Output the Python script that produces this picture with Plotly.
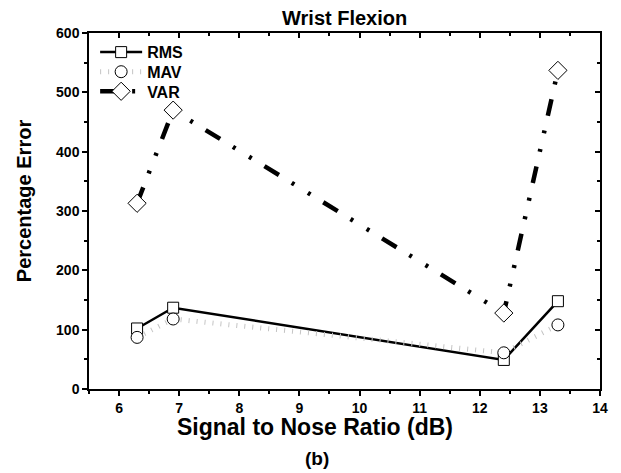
import plotly.graph_objects as go

# Signal-to-noise ratio (dB) at which each feature was evaluated
snr = [6.3, 6.9, 12.4, 13.3]

# Percentage error per feature
rms = [102, 137, 49, 148]
mav = [87, 118, 61, 108]
var = [313, 470, 128, 537]

x_ticks = [6, 7, 8, 9, 10, 11, 12, 13, 14]
y_ticks = [0, 100, 200, 300, 400, 500, 600]

FONT = "Liberation Sans, Arial, sans-serif"
X_RANGE = [5.5, 14]
Y_RANGE = [0, 600]


def bold(size):
    return dict(family=FONT, size=size, color="black", weight="bold")


def legend_box(y):
    # one legend per series so the rows can be packed tightly
    return dict(x=0.012, y=y, xanchor="left", yanchor="middle",
                bgcolor="rgba(0,0,0,0)", borderwidth=0,
                font=bold(16), itemwidth=42)


fig = go.Figure()

fig.add_trace(go.Scatter(
    x=snr, y=rms, name="RMS", mode="lines+markers", legend="legend",
    line=dict(color="black", width=2.5),
    marker=dict(symbol="square", size=11, color="white",
                line=dict(color="black", width=1)),
))
fig.add_trace(go.Scatter(
    x=snr, y=mav, name="MAV", mode="lines+markers", legend="legend2",
    line=dict(color="#c4c4c4", width=5, dash="1px,7px"),
    marker=dict(symbol="circle", size=12, color="white",
                line=dict(color="black", width=1)),
))
fig.add_trace(go.Scatter(
    x=snr, y=var, name="VAR", mode="lines+markers", legend="legend3",
    line=dict(color="black", width=4.5,
              dash="17px,15px,3px,16px,3px,15px"),
    marker=dict(symbol="diamond", size=14, color="white",
                line=dict(color="black", width=1)),
))

# invisible helper trace so the mirrored top/right axes are drawn
fig.add_trace(go.Scatter(
    x=[X_RANGE[0]], y=[Y_RANGE[0]], xaxis="x2", yaxis="y2",
    mode="markers", marker=dict(opacity=0), showlegend=False,
    hoverinfo="skip",
))

fig.update_layout(
    width=621, height=473,
    margin=dict(l=89, r=21, t=33, b=84),
    paper_bgcolor="white", plot_bgcolor="white",
    font=dict(family=FONT, color="black"),
    title=dict(text="Wrist Flexion", x=0.555, xanchor="center",
               y=0.963, yanchor="middle", font=bold(20)),
    showlegend=True,
    legend=legend_box(0.946),
    legend2=legend_box(0.891),
    legend3=legend_box(0.836),
    xaxis=dict(
        range=X_RANGE, tickvals=x_ticks, tickfont=bold(14),
        ticks="outside", ticklen=5, tickwidth=1.5, tickcolor="black",
        minor=dict(dtick=0.5, ticks="outside", ticklen=3, tickwidth=1.5,
                   tickcolor="black"),
        showline=True, linecolor="black", linewidth=1.5,
        showgrid=False, zeroline=False,
    ),
    yaxis=dict(
        range=Y_RANGE, tickvals=y_ticks, tickfont=bold(14),
        ticks="outside", ticklen=5, tickwidth=1.5, tickcolor="black",
        minor=dict(dtick=50, ticks="outside", ticklen=3, tickwidth=1.5,
                   tickcolor="black"),
        showline=True, linecolor="black", linewidth=1.5,
        showgrid=False, zeroline=False,
    ),
    xaxis2=dict(
        overlaying="x", side="top", range=X_RANGE, tickvals=x_ticks,
        showticklabels=False, ticks="inside", ticklen=5, tickwidth=1.5,
        tickcolor="black",
        minor=dict(dtick=0.5, ticks="inside", ticklen=3, tickwidth=1.5,
                   tickcolor="black"),
        showline=True, linecolor="black", linewidth=1.5,
        showgrid=False, zeroline=False,
    ),
    yaxis2=dict(
        overlaying="y", side="right", range=Y_RANGE, tickvals=y_ticks,
        showticklabels=False, ticks="inside", ticklen=5, tickwidth=1.5,
        tickcolor="black",
        minor=dict(dtick=50, ticks="inside", ticklen=3, tickwidth=1.5,
                   tickcolor="black"),
        showline=True, linecolor="black", linewidth=1.5,
        showgrid=False, zeroline=False,
    ),
    annotations=[
        dict(text="Percentage Error", xref="paper", yref="paper",
             x=-0.127, y=0.528, xanchor="center", yanchor="middle",
             textangle=-90, showarrow=False, font=bold(20)),
        dict(text="Signal to Nose Ratio (dB)", xref="paper", yref="paper",
             x=0.442, y=-0.107, xanchor="center", yanchor="middle",
             showarrow=False, font=bold(23)),
        dict(text="(b)", xref="paper", yref="paper",
             x=0.447, y=-0.194, xanchor="center", yanchor="middle",
             showarrow=False, font=bold(19)),
    ],
)

fig.write_html("out.html")
